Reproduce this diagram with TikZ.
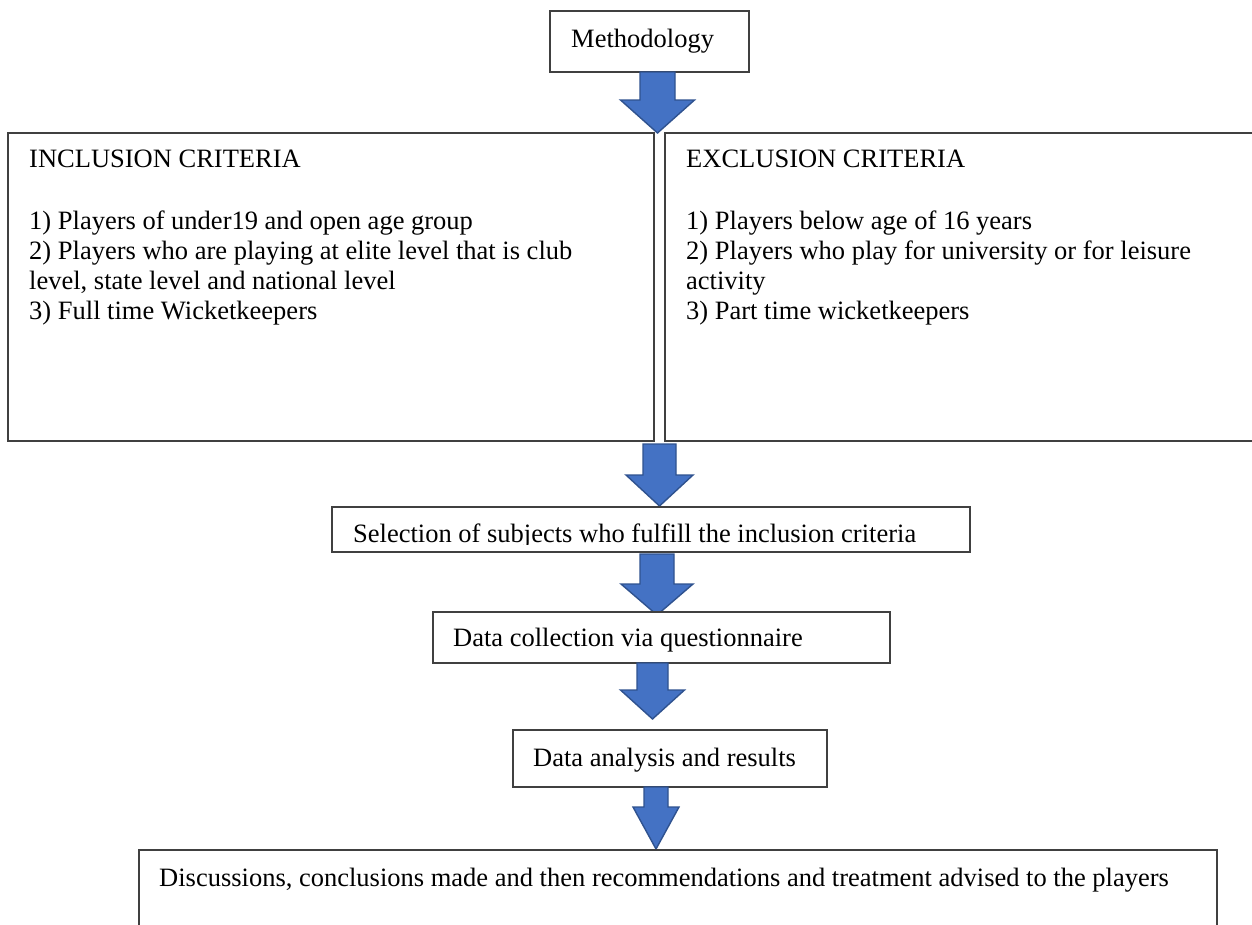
\documentclass[tikz,border=0pt]{standalone}
\usepackage{fontspec}
\setmainfont{Liberation Serif}
\definecolor{arrowfill}{HTML}{4472C4}
\definecolor{arrowline}{HTML}{2F528F}
\definecolor{boxline}{HTML}{404040}
\tikzset{
  box/.style={draw=boxline, line width=1.3pt, fill=white},
  txt/.style={anchor=base west, inner sep=0pt, font=\fontsize{26.5}{30}\selectfont},
  barrow/.style={fill=arrowfill, draw=arrowline, line width=1.4pt, line join=miter},
}
% center x, top y, head start y, tip y, shaft half width, head half width
\newcommand\blockarrow[6]{%
  \filldraw[barrow] ({#1-#5},#2) -- ({#1+#5},#2) -- ({#1+#5},#3) -- ({#1+#6},#3)
    -- (#1,#4) -- ({#1-#6},#3) -- ({#1-#5},#3) -- cycle;}
\begin{document}
\begin{tikzpicture}[x=1pt,y=-1pt]
\clip (0,0) rectangle (1252,924);
\fill[white] (0,0) rectangle (1252,924);

% Methodology
\draw[box] (550,11) rectangle (749,72);
\node[txt] (meth) at (571,47) {Methodology};
\blockarrow{657.5}{72}{100}{133}{17.5}{37}

% Inclusion / exclusion
\draw[box] (8,133) rectangle (654,441);
\draw[box] (665,133) rectangle (1262,441);
\node[txt] (inc0) at (29,167) {INCLUSION CRITERIA};
\node[txt] (inc1) at (29,229) {1) Players of under19 and open age group};
\node[txt] (inc2) at (29,259) {2) Players who are playing at elite level that is club};
\node[txt] (inc3) at (29,289) {level, state level and national level};
\node[txt] (inc4) at (29,319) {3) Full time Wicketkeepers};
\node[txt] (exc0) at (686,167) {EXCLUSION CRITERIA};
\node[txt] (exc1) at (686,229) {1) Players below age of 16 years};
\node[txt] (exc2) at (686,259) {2) Players who play for university or for leisure};
\node[txt] (exc3) at (686,289) {activity};
\node[txt] (exc4) at (686,319) {3) Part time wicketkeepers};
\blockarrow{659.5}{444}{475}{506}{16.5}{33.5}

% Selection
\draw[box] (332,507) rectangle (970,552);
\begin{scope}
  \clip (332,507) rectangle (970,544.5);
  \node[txt] (sel) at (353,542) {Selection of subjects who fulfill the inclusion criteria};
\end{scope}
\blockarrow{657}{554}{584}{615}{17}{36}

% Data collection
\draw[box] (433,612) rectangle (890,663);
\node[txt] (coll) at (453,646) {Data collection via questionnaire};
\blockarrow{652.5}{663}{690}{719}{15.5}{32}

% Data analysis
\draw[box] (513,730) rectangle (827,787);
\node[txt] (anal) at (533,766) {Data analysis and results};
\blockarrow{656}{787}{807}{849}{12}{23}

% Discussions
\draw[box] (139,850) rectangle (1217,940);
\node[txt] (disc) at (159,886) {Discussions, conclusions made and then recommendations and treatment advised to the players};
\end{tikzpicture}
\end{document}
